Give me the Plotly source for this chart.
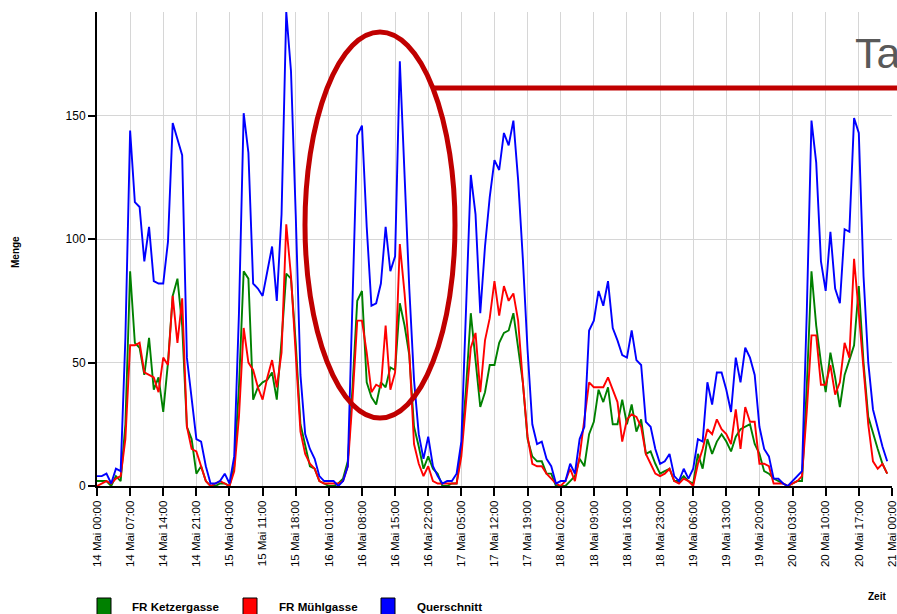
import pandas as pd
import plotly.graph_objects as go

# ---------------- data (hourly, 14 Mai 00:00 .. 20 Mai 23:00) ----------------
series_names = ["FR Ketzergasse", "FR Mühlgasse", "Querschnitt"]
series_colors = ["#008000", "#ff0000", "#0000ff"]

ketzergasse = [
    2, 2, 2, 0, 4, 2, 25, 87, 58, 56, 45, 60, 39, 44, 30, 50, 77, 84, 65, 24, 19, 5, 8, 2,
    0, 0, 1, 1, 0, 8, 40, 87, 84, 35, 40, 42, 43, 46, 35, 59, 86, 84, 58, 25, 17, 8, 7, 2,
    1, 0, 0, 1, 3, 10, 40, 75, 79, 42, 36, 33, 42, 40, 48, 47, 74, 65, 53, 24, 16, 7, 12, 7,
    5, 0, 0, 1, 1, 15, 40, 70, 51, 32, 38, 49, 49, 58, 62, 63, 70, 56, 42, 19, 12, 10, 10, 5,
    5, 0, 0, 0, 2, 4, 11, 8, 21, 26, 39, 34, 40, 25, 25, 35, 25, 33, 22, 27, 13, 14, 9, 5,
    6, 7, 2, 2, 4, 2, 1, 13, 7, 19, 13, 18, 21, 18, 14, 20, 23, 24, 25, 17, 13, 6, 5, 3,
    2, 1, 0, 1, 2, 2, 40, 87, 65, 50, 38, 54, 44, 32, 45, 51, 57, 81, 50, 28, 21, 15, 9, 5,
]
muehlgasse = [
    0, 1, 2, 1, 3, 4, 19, 57, 57, 58, 46, 45, 44, 38, 52, 49, 77, 58, 76, 24, 15, 14, 8, 2,
    0, 1, 2, 1, 0, 6, 28, 64, 50, 47, 40, 35, 44, 51, 40, 54, 106, 85, 55, 22, 13, 9, 7, 2,
    1, 1, 1, 1, 2, 8, 35, 67, 67, 54, 38, 41, 40, 65, 39, 46, 98, 78, 54, 17, 9, 4, 8, 2,
    1, 1, 1, 1, 1, 12, 35, 56, 62, 38, 59, 68, 83, 69, 81, 75, 78, 67, 42, 20, 9, 8, 8, 5,
    3, 1, 0, 2, 7, 2, 12, 28, 42, 40, 40, 40, 44, 39, 34, 18, 27, 29, 28, 24, 13, 9, 5, 4,
    5, 7, 2, 1, 3, 2, 0, 9, 15, 23, 21, 27, 23, 21, 17, 31, 15, 32, 26, 26, 9, 9, 8, 1,
    1, 1, 0, 1, 2, 4, 30, 61, 61, 41, 41, 49, 37, 42, 58, 52, 92, 70, 48, 25, 10, 7, 9, 5,
]
querschnitt = [
    4, 4, 5, 1, 7, 6, 60, 144, 115, 113, 91, 105, 83, 82, 82, 99, 147, 141, 134, 52, 35, 19, 18, 8,
    1, 1, 2, 5, 1, 12, 70, 151, 135, 82, 80, 77, 87, 97, 75, 110, 192, 168, 110, 45, 21, 15, 11, 4,
    2, 2, 2, 0, 2, 8, 75, 142, 146, 105, 73, 74, 82, 105, 87, 93, 172, 125, 80, 43, 21, 11, 20, 8,
    4, 1, 2, 2, 5, 18, 72, 126, 110, 70, 97, 117, 132, 128, 143, 138, 148, 124, 92, 55, 25, 17, 18, 11,
    8, 1, 2, 2, 9, 5, 19, 24, 63, 67, 79, 73, 83, 64, 59, 53, 52, 63, 51, 49, 26, 24, 15, 9,
    10, 13, 4, 2, 7, 3, 7, 19, 18, 42, 33, 46, 46, 39, 30, 52, 42, 56, 52, 45, 24, 15, 12, 3,
    3, 1, 0, 2, 4, 6, 70, 148, 131, 91, 79, 103, 80, 74, 104, 103, 149, 143, 85, 50, 31, 23, 16, 10,
]
series_values = [ketzergasse, muehlgasse, querschnitt]

times = pd.date_range("2015-05-14 00:00", periods=168, freq="h")
tick_times = [pd.Timestamp("2015-05-14 00:00") + pd.Timedelta(hours=7 * i) for i in range(25)]
tick_labels = [f"{t.day} Mai {t:%H:%M}" for t in tick_times]
y_ticks = [0, 50, 100, 150]

# ---------------- geometry helpers (pixel -> paper) ----------------
W, H = 897, 614
L, R, T, B = 97, 5, 12, 128
PW, PH = W - L - R, H - T - B


def px(x):
    return (x - L) / PW


def py(y):
    return (H - B - y) / PH


fig = go.Figure()
for name, color, vals in zip(series_names, series_colors, series_values):
    fig.add_trace(go.Scatter(x=times, y=vals, mode="lines", name=name,
                             line=dict(color=color, width=1.9), showlegend=False))

font = "Liberation Sans, Arial, sans-serif"
fig.update_layout(
    width=W, height=H,
    margin=dict(l=L, r=R, t=T, b=B, autoexpand=False),
    paper_bgcolor="white", plot_bgcolor="white",
    font=dict(family=font, color="black"),
    xaxis=dict(
        range=[pd.Timestamp("2015-05-14 00:00"), pd.Timestamp("2015-05-21 00:01")],
        tickmode="array", tickvals=tick_times, ticktext=tick_labels,
        tickangle=-90, ticks="outside", ticklen=8, tickcolor="black", tickwidth=1.5,
        tickfont=dict(size=11.5, family=font, color="black"),
        ticklabeloverflow="allow",
        showgrid=True, gridcolor="#d6d6d6", gridwidth=1, automargin=False,
        showline=True, linecolor="black", linewidth=2, zeroline=False,
    ),
    yaxis=dict(
        range=[0, 192], tickmode="array", tickvals=y_ticks,
        ticks="outside", ticklen=7, tickcolor="black", tickwidth=1.5,
        tickfont=dict(size=12, family=font, color="black"),
        showgrid=True, gridcolor="#d6d6d6", gridwidth=1, automargin=False,
        showline=True, linecolor="black", linewidth=2, zeroline=False,
    ),
)

# axis titles
fig.add_annotation(text="<b>Menge</b>", xref="paper", yref="paper", x=px(15), y=py(252),
                   xanchor="center", yanchor="middle",
                   textangle=-90, showarrow=False, font=dict(size=10, family=font))
fig.add_annotation(text="<b>Zeit</b>", xref="paper", yref="paper", x=px(877), y=py(596),
                   xanchor="center", yanchor="middle",
                   showarrow=False, font=dict(size=10, family=font))

# legend (squares + labels at the bottom)
legend_sq_x = [97, 243, 381]
legend_tx_x = [130, 277, 415]
for name, color, sx, tx in zip(series_names, series_colors, legend_sq_x, legend_tx_x):
    fig.add_shape(type="rect", xref="paper", yref="paper",
                  x0=px(sx), x1=px(sx + 14), y0=py(617), y1=py(598),
                  fillcolor=color, line=dict(color="black", width=1))
    fig.add_annotation(text=f"<b>{name}</b>", xref="paper", yref="paper",
                       x=px(tx), y=py(606), xanchor="left", yanchor="middle", showarrow=False,
                       font=dict(size=11.6, family=font))

# slide overlay: red ellipse, red line, cut-off title
fig.add_shape(type="circle", xref="paper", yref="paper",
              x0=px(305), x1=px(455), y0=py(418), y1=py(32),
              line=dict(color="#c00000", width=5), layer="above")
fig.add_shape(type="line", xref="paper", yref="paper",
              x0=px(433), x1=px(905), y0=py(88), y1=py(88),
              line=dict(color="#c00000", width=5), layer="above")
fig.add_annotation(text="Ta", xref="paper", yref="paper", x=px(853), y=py(53),
                   xanchor="left", yanchor="middle", showarrow=False,
                   font=dict(size=43, family="Liberation Sans Narrow, Liberation Sans, sans-serif",
                             color="#595959"))

fig.write_html("out.html", config={"displayModeBar": False},
               post_script="document.body.style.margin='0';document.body.style.overflow='hidden';")
